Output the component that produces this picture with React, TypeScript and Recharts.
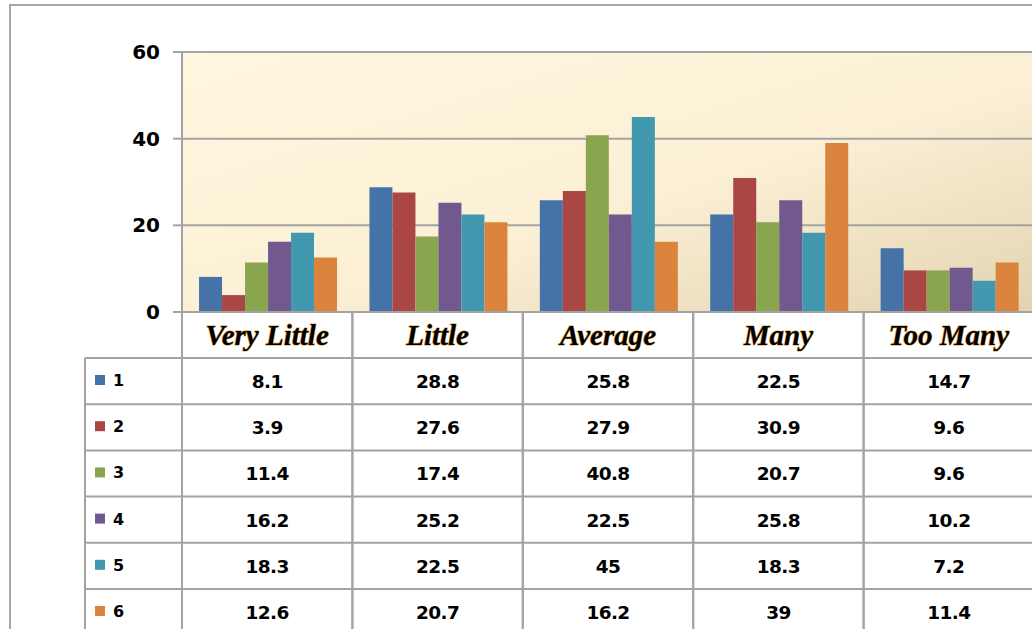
import { Bar, BarChart, CartesianGrid, XAxis, YAxis } from 'recharts';

const categories = ['Very Little', 'Little', 'Average', 'Many', 'Too Many'];
const seriesNames = ['1', '2', '3', '4', '5', '6'];
const s1 = [8.1, 28.8, 25.8, 22.5, 14.7];
const s2 = [3.9, 27.6, 27.9, 30.9, 9.6];
const s3 = [11.4, 17.4, 40.8, 20.7, 9.6];
const s4 = [16.2, 25.2, 22.5, 25.8, 10.2];
const s5 = [18.3, 22.5, 45, 18.3, 7.2];
const s6 = [12.6, 20.7, 16.2, 39, 11.4];
const yTicks = [0, 20, 40, 60];
const colors = ['#4572A7', '#AA4643', '#89A54E', '#71588F', '#4198AF', '#DB843D'];

const series = [s1, s2, s3, s4, s5, s6];
const data = categories.map((name, i) => {
  const row: Record<string, string | number> = { name };
  series.forEach((vals, k) => {
    row['s' + (k + 1)] = vals[i];
  });
  return row;
});

const W = 1040;
const H = 629;
const PLOT_LEFT = 182;
const PLOT_TOP = 52;
const PLOT_BOTTOM = 312;
const PLOT_RIGHT = 1034;
const BAND = (PLOT_RIGHT - PLOT_LEFT) / categories.length;
const ROW_TOP = 358;
const ROW_H = 46.2;
const LINE = '#a3a3a3';
const SANS = '"DejaVu Sans", Verdana, sans-serif';

function TableTick(props: any) {
  const { x, payload } = props;
  const i = payload.index ?? categories.indexOf(payload.value);
  return (
    <g>
      <line x1={x - BAND / 2} x2={x - BAND / 2} y1={PLOT_BOTTOM} y2={H} stroke={LINE} strokeWidth={2} />
      <line x1={x + BAND / 2} x2={x + BAND / 2} y1={PLOT_BOTTOM} y2={H} stroke={LINE} strokeWidth={2} />
      <text
        x={x}
        y={345}
        textAnchor="middle"
        fontFamily='"Liberation Serif", "Times New Roman", serif'
        fontStyle="italic"
        fontWeight="bold"
        fontSize={29}
        fill="#000"
        stroke="#dca04a"
        strokeWidth={1.1}
        paintOrder="stroke"
      >
        {payload.value}
      </text>
      {series.map((vals, r) => (
        <text
          key={r}
          x={x}
          y={ROW_TOP + r * ROW_H + 30}
          textAnchor="middle"
          fontFamily={SANS}
          fontWeight="bold"
          fontSize={18.5}
          letterSpacing={-0.6}
          fill="#000"
        >
          {vals[i]}
        </text>
      ))}
    </g>
  );
}

export default function App() {
  return (
    <div style={{ position: 'absolute', left: 0, top: 0, width: 1032, height: H, overflow: 'hidden', background: '#fff' }}>
      <BarChart
        width={W}
        height={H}
        data={data}
        margin={{ top: PLOT_TOP, right: W - PLOT_RIGHT, bottom: 0, left: 0 }}
        barCategoryGap="10%"
        barGap={0}
      >
        <defs>
          <linearGradient id="plotBg" x1="0" y1="0" x2="1" y2="1">
            <stop offset="0" stopColor="#fff7de" />
            <stop offset="0.55" stopColor="#fbf0d6" />
            <stop offset="1" stopColor="#e2d3b0" />
          </linearGradient>
        </defs>
        <rect x={10} y={5} width={W} height={H} fill="none" stroke="#a8a8a8" strokeWidth={2} />
        <CartesianGrid vertical={false} stroke={LINE} strokeWidth={2} fill="url(#plotBg)" />
        <XAxis
          dataKey="name"
          height={H - PLOT_BOTTOM}
          interval={0}
          tickLine={false}
          axisLine={{ stroke: LINE, strokeWidth: 2 }}
          tick={(p: any) => <TableTick {...p} />}
        />
        <YAxis
          width={PLOT_LEFT}
          domain={[0, 60]}
          ticks={yTicks}
          tickSize={9}
          tickMargin={13}
          axisLine={{ stroke: LINE, strokeWidth: 2 }}
          tickLine={{ stroke: LINE, strokeWidth: 2 }}
          tick={{ fill: '#000', fontFamily: SANS, fontWeight: 'bold', fontSize: 20 }}
        />
        {series.map((_, k) => (
          <Bar key={k} dataKey={'s' + (k + 1)} name={seriesNames[k]} fill={colors[k]} isAnimationActive={false} />
        ))}
        {seriesNames.map((n, r) => (
          <g key={n}>
            <line x1={85} x2={W} y1={ROW_TOP + r * ROW_H} y2={ROW_TOP + r * ROW_H} stroke={LINE} strokeWidth={2} />
            <rect x={95} y={ROW_TOP + r * ROW_H + 17} width={10} height={10} fill={colors[r]} />
            <text x={113} y={ROW_TOP + r * ROW_H + 28} fontFamily={SANS} fontWeight="bold" fontSize={16} fill="#000">
              {n}
            </text>
          </g>
        ))}
        <line x1={85} x2={85} y1={ROW_TOP} y2={H} stroke={LINE} strokeWidth={2} />
      </BarChart>
    </div>
  );
}
